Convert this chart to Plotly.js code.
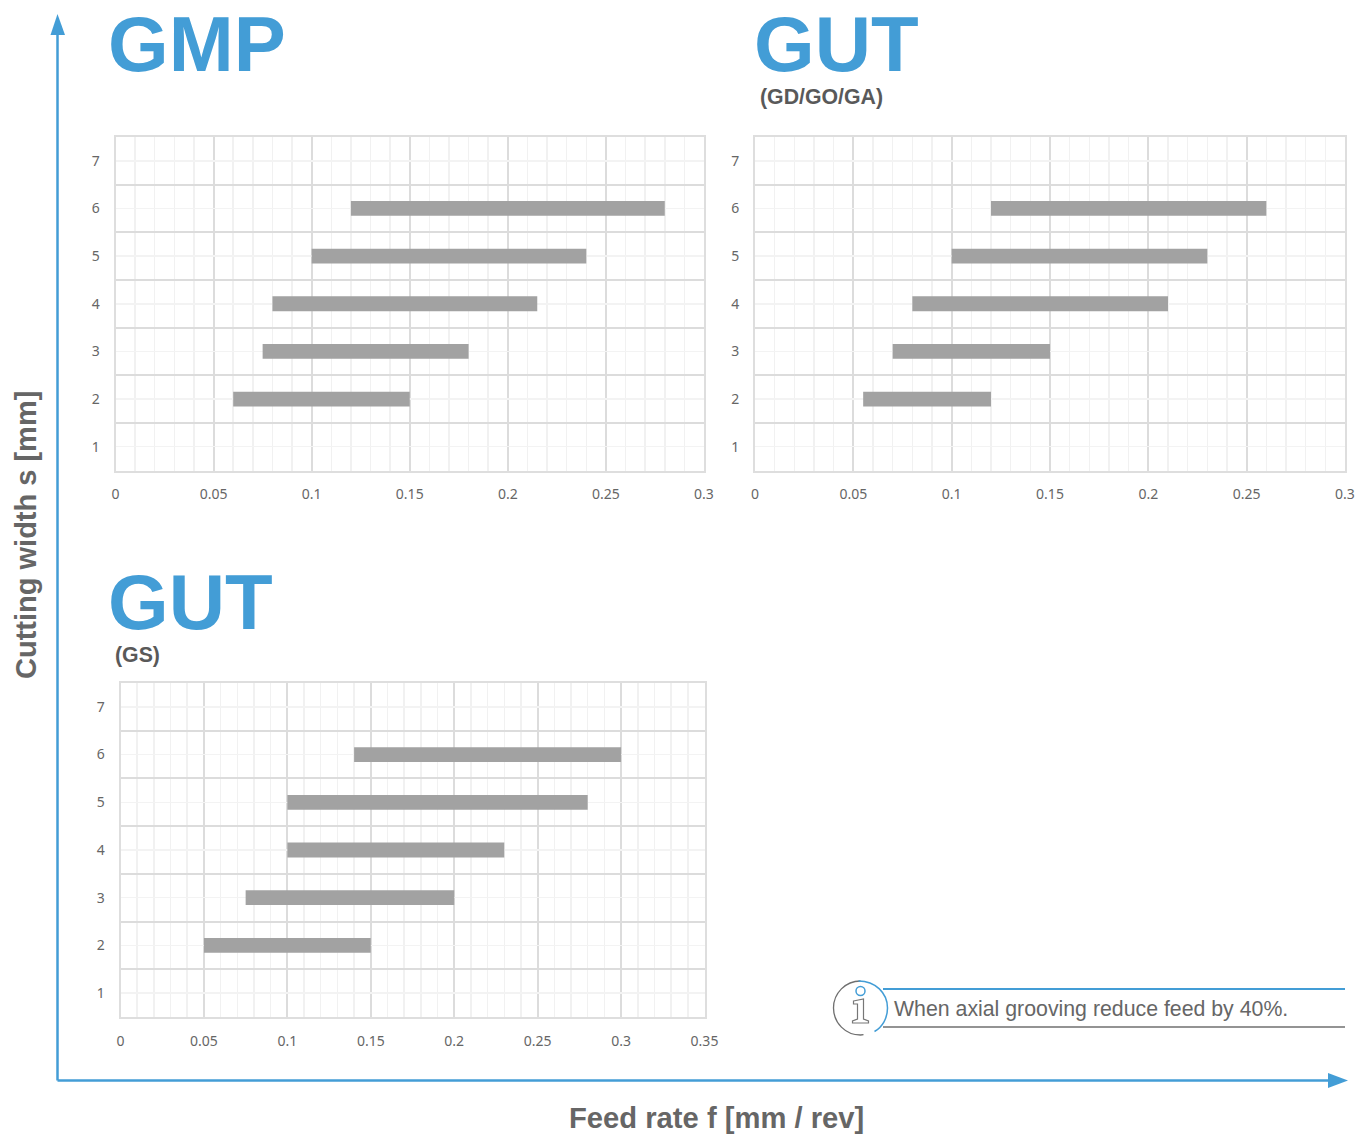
<!DOCTYPE html>
<html><head><meta charset="utf-8">
<script src="https://cdn.plot.ly/plotly-3.0.1.min.js"></script>
<style>html,body{margin:0;padding:0;background:#fff}#c{width:1359px;height:1135px}</style>
</head><body><div id="c"></div>
<script>
const W = 1359, H = 1135;
const widths = [2, 3, 4, 5, 6];
const yTicks = [1, 2, 3, 4, 5, 6, 7];
const yBands = [0.5, 1.5, 2.5, 3.5, 4.5, 5.5, 6.5, 7.5];
const gmpStart = [0.06, 0.075, 0.08, 0.10, 0.12];
const gmpEnd = [0.15, 0.18, 0.215, 0.24, 0.28];
const gutGdStart = [0.055, 0.07, 0.08, 0.10, 0.12];
const gutGdEnd = [0.12, 0.15, 0.21, 0.23, 0.26];
const gutGsStart = [0.05, 0.075, 0.10, 0.10, 0.14];
const gutGsEnd = [0.15, 0.20, 0.23, 0.28, 0.30];
const xTicksA = [0, 0.05, 0.1, 0.15, 0.2, 0.25, 0.3];
const xLabelsA = ['0', '0.05', '0.1', '0.15', '0.2', '0.25', '0.3'];
const xTicksB = [0, 0.05, 0.1, 0.15, 0.2, 0.25, 0.3, 0.35];
const xLabelsB = ['0', '0.05', '0.1', '0.15', '0.2', '0.25', '0.3', '0.35'];

const BLUE = '#439dd6', GREY = '#666666', TICK = '#666666';
const px = x => x / W, py = y => 1 - y / H;

const panels = [
  {s: gmpStart, e: gmpEnd, box: [115.5, 704, 137, 470.5], max: 0.3, tv: xTicksA, tt: xLabelsA},
  {s: gutGdStart, e: gutGdEnd, box: [755, 1345, 137, 470.5], max: 0.3, tv: xTicksA, tt: xLabelsA},
  {s: gutGsStart, e: gutGsEnd, box: [120.5, 704.5, 683, 1017], max: 0.35, tv: xTicksB, tt: xLabelsB}
];

const layout = {
  width: W, height: H, margin: {l: 0, r: 0, t: 0, b: 0},
  paper_bgcolor: '#fff', plot_bgcolor: '#fff', showlegend: false, barmode: 'overlay',
  font: {family: '"Noto Sans", sans-serif', color: TICK},
  shapes: [], annotations: []
};
const data = [];
panels.forEach((p, i) => {
  const n = i ? i + 1 : '';
  data.push({
    type: 'bar', orientation: 'h', y: widths,
    x: p.e.map((v, k) => v - p.s[k]), base: p.s, width: 0.31,
    marker: {color: '#a2a2a2', line: {width: 0}},
    xaxis: 'x' + n, yaxis: 'y' + n, hoverinfo: 'skip'
  });
  layout['xaxis' + n] = {
    domain: [px(p.box[0]), px(p.box[1])], range: [0, p.max], anchor: 'y' + n,
    tickmode: 'array', tickvals: p.tv, ticktext: p.tt,
    ticks: 'outside', ticklen: 10, tickcolor: 'rgba(0,0,0,0)', tickwidth: 1,
    tickfont: {size: 14, color: TICK, family: '"Noto Sans", sans-serif'}, tickangle: 0,
    showgrid: true, gridcolor: '#dcdcdc', gridwidth: 2, zeroline: false,
    showline: true, mirror: true, linecolor: '#dedede', linewidth: 2,
    minor: {dtick: 0.01, tick0: 0, showgrid: true, gridcolor: '#f1f1f1', gridwidth: 1.5, ticks: ''}
  };
  layout['yaxis' + n] = {
    domain: [py(p.box[3]), py(p.box[2])], range: [0.5, 7.5], anchor: 'x' + n,
    tickmode: 'array', tickvals: yTicks, ticktext: yTicks.map(String),
    ticks: 'outside', ticklen: 11, tickcolor: 'rgba(0,0,0,0)', tickwidth: 1,
    tickfont: {size: 14, color: TICK, family: '"Noto Sans", sans-serif'},
    showgrid: true, gridcolor: '#f3f3f3', gridwidth: 1.5, zeroline: false,
    showline: true, mirror: true, linecolor: '#dedede', linewidth: 2,
    minor: {tickmode: 'array', tickvals: yBands, showgrid: true, gridcolor: '#dcdcdc', gridwidth: 2, ticks: ''}
  };
});

function text(t, x, y, size, color, bold, extra) {
  layout.annotations.push(Object.assign({
    text: bold ? '<b>' + t + '</b>' : t, xref: 'paper', yref: 'paper', x: px(x), y: py(y),
    xanchor: 'left', yanchor: 'middle', showarrow: false,
    font: {family: '"Liberation Sans", Arial, sans-serif', size: size, color: color}
  }, extra || {}));
}
text('GMP', 106, 44, 78, BLUE, true);
text('GUT', 752, 44, 78, BLUE, true);
text('(GD/GO/GA)', 758, 97, 21.3, '#595959', true);
text('GUT', 106, 602, 78, BLUE, true);
text('(GS)', 112.5, 654.5, 21.3, '#595959', true);
text('Cutting width s [mm]', 26, 535, 29, GREY, true, {textangle: -90, xanchor: 'center'});
text('Feed rate f [mm / rev]', 716, 1118, 29.2, GREY, true, {xanchor: 'center'});
text('When axial grooving reduce feed by 40%.', 892, 1009, 21.3, GREY, false);

function line(x0, y0, x1, y1, color, w) {
  layout.shapes.push({type: 'line', xref: 'paper', yref: 'paper', x0: px(x0), y0: py(y0), x1: px(x1), y1: py(y1), line: {color: color, width: w}});
}
function path(pts, fill, stroke, w) {
  const d = pts.map(q => typeof q === 'string' ? q : px(q[0]) + ',' + py(q[1])).join(' ');
  layout.shapes.push({type: 'path', xref: 'paper', yref: 'paper', path: d, fillcolor: fill || 'rgba(0,0,0,0)', line: {color: stroke || 'rgba(0,0,0,0)', width: w || 0}});
}
// axis arrows
line(57.5, 1080.5, 57.5, 30, BLUE, 2.5);
line(57.5, 1080.5, 1332, 1080.5, BLUE, 2.5);
path(['M', [57.5, 14], 'L', [65, 35], 'L', [50.5, 35], 'Z'], BLUE);
path(['M', [1348, 1080.5], 'L', [1328, 1073], 'L', [1328, 1088], 'Z'], BLUE);
// note rules
line(883, 989, 1345, 989, BLUE, 2);
line(883, 1027, 1345, 1027, '#6f6f6f', 1.5);
// info icon
const cx = 860.5, cy = 1008, r = 27, k = 0.5523 * r;
path(['M', [cx, cy - r], 'C', [cx - k, cy - r], [cx - r, cy - k], [cx - r, cy],
      'C', [cx - r, cy + k], [cx - k, cy + r], [cx, cy + r], 'L', [cx + 3, cy + r - 0.3]], null, '#6f6f6f', 1.3);
path(['M', [cx - 2, cy - r], 'C', [cx + k, cy - r], [cx + r, cy - k], [cx + r, cy],
      'C', [cx + r, cy + 10], [cx + 22, cy + 19], [cx + 14, cy + 23.5]], null, BLUE, 1.5);
layout.shapes.push({type: 'circle', xref: 'paper', yref: 'paper', x0: px(cx - 4.5), x1: px(cx + 4.5), y0: py(cy - 12.5), y1: py(cy - 21.5), line: {color: BLUE, width: 1.5}});
path(['M', [cx - 7, cy - 7], 'L', [cx + 3, cy - 9], 'L', [cx + 3, cy + 11], 'L', [cx + 8, cy + 13], 'L', [cx + 8, cy + 15],
      'L', [cx - 8, cy + 15], 'L', [cx - 8, cy + 13], 'L', [cx - 3, cy + 11], 'L', [cx - 3, cy - 4], 'L', [cx - 7, cy - 4], 'Z'], '#fff', '#777777', 1.2);

Plotly.newPlot('c', data, layout, {displayModeBar: false, staticPlot: true});
</script></body></html>
